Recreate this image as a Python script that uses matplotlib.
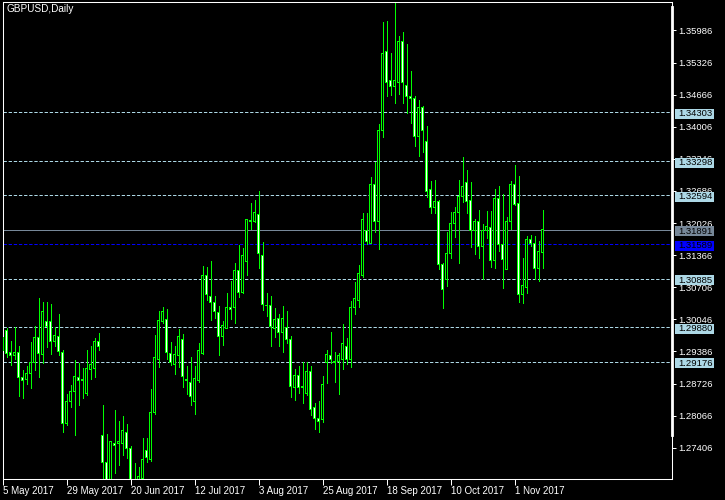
import matplotlib
matplotlib.use('Agg')
import matplotlib.pyplot as plt
from matplotlib.patches import Rectangle
from matplotlib.lines import Line2D

plt.rcParams['font.family'] = ['Liberation Sans', 'DejaVu Sans']
plt.rcParams['lines.scale_dashes'] = False

# ---------------- data (GBPUSD daily, 5 May 2017 .. 10 Nov 2017) ----------------
opens = [
    1.29416, 1.29827, 1.29375, 1.29313, 1.29375, 1.28861, 1.28820, 1.28923, 1.29149, 1.29683,
    1.29334, 1.29992, 1.29992, 1.29581, 1.29704, 1.29375, 1.27915, 1.28367, 1.28553, 1.28861,
    1.28779, 1.28532, 1.29025, 1.29046, 1.29601, 1.27668, 1.27093, 1.26579, 1.27504, 1.27504,
    1.27504, 1.27710, 1.27381, 1.26558, 1.26497, 1.26784, 1.27360, 1.27175, 1.28121, 1.29231,
    1.30012, 1.30053, 1.29354, 1.29128, 1.29293, 1.29642, 1.28779, 1.28738, 1.28367, 1.28799,
    1.29354, 1.30958, 1.30526, 1.30403, 1.30197, 1.29704, 1.29868, 1.30300, 1.30280, 1.31061,
    1.30608, 1.31246, 1.32089, 1.32048, 1.32212, 1.31369, 1.30341, 1.30341, 1.29868, 1.30074,
    1.29766, 1.29889, 1.29642, 1.28655, 1.28902, 1.28676, 1.28532, 1.28984, 1.28224, 1.28018,
    1.27997, 1.29169, 1.29293, 1.29190, 1.29190, 1.29231, 1.29498, 1.29231, 1.30280, 1.30444,
    1.30958, 1.31863, 1.31616, 1.32829, 1.32048, 1.33939, 1.35563, 1.34947, 1.34844, 1.34926,
    1.35749, 1.34864, 1.34618, 1.34577, 1.33816, 1.34392, 1.33693, 1.32706, 1.32356, 1.32479,
    1.31184, 1.30876, 1.31410, 1.32027, 1.32233, 1.32582, 1.32870, 1.32500, 1.31883, 1.32048,
    1.31554, 1.31863, 1.31945, 1.31266, 1.32541, 1.31595, 1.31081, 1.32068, 1.32829, 1.32438,
    1.30567, 1.30691, 1.31698, 1.31616, 1.31102, 1.31431,
]
highs = [
    1.29766, 1.29868, 1.29601, 1.29889, 1.29498, 1.29005, 1.29087, 1.29581, 1.29909, 1.30485,
    1.30403, 1.30403, 1.30362, 1.29889, 1.30156, 1.29416, 1.28511, 1.28696, 1.29210, 1.29149,
    1.29046, 1.29416, 1.29498, 1.29663, 1.29766, 1.28285, 1.27689, 1.27545, 1.28182, 1.27956,
    1.28059, 1.27895, 1.27442, 1.27093, 1.27011, 1.27607, 1.27607, 1.28614, 1.29724, 1.30218,
    1.30300, 1.30259, 1.29581, 1.29498, 1.29848, 1.29745, 1.29087, 1.29272, 1.29087, 1.29560,
    1.31143, 1.31123, 1.31246, 1.30526, 1.30321, 1.30012, 1.30588, 1.30835, 1.31205, 1.31575,
    1.31513, 1.32109, 1.32438, 1.32500, 1.32685, 1.31637, 1.30588, 1.30526, 1.30280, 1.30156,
    1.30321, 1.30218, 1.29704, 1.29025, 1.29087, 1.29169, 1.29169, 1.29087, 1.28326, 1.28367,
    1.28881, 1.29416, 1.29786, 1.29375, 1.29354, 1.29951, 1.29663, 1.30423, 1.30814, 1.31164,
    1.32233, 1.32233, 1.32973, 1.33281, 1.34063, 1.36160, 1.36180, 1.35522, 1.36550, 1.35872,
    1.35954, 1.35707, 1.35152, 1.34638, 1.34556, 1.34433, 1.34021, 1.32891, 1.32911, 1.32500,
    1.31205, 1.31842, 1.32253, 1.32356, 1.32911, 1.33384, 1.33117, 1.32870, 1.32109, 1.32294,
    1.32007, 1.32274, 1.32274, 1.32726, 1.32788, 1.32623, 1.32151, 1.32891, 1.33220, 1.32993,
    1.31308, 1.31760, 1.31780, 1.31760, 1.31657, 1.32294,
]
lows = [
    1.29313, 1.29272, 1.29108, 1.29231, 1.28470, 1.28429, 1.28717, 1.28635, 1.29005, 1.28861,
    1.29149, 1.29478, 1.29334, 1.29498, 1.29313, 1.27730, 1.27874, 1.28244, 1.27668, 1.28285,
    1.28429, 1.28491, 1.28820, 1.28861, 1.29416, 1.26640, 1.26435, 1.26497, 1.26887, 1.27052,
    1.27257, 1.27196, 1.26373, 1.26229, 1.26435, 1.26702, 1.27113, 1.27134, 1.28100, 1.29067,
    1.29971, 1.29231, 1.29108, 1.28923, 1.29067, 1.28655, 1.28511, 1.28285, 1.28100, 1.28758,
    1.29334, 1.30444, 1.30033, 1.30074, 1.29313, 1.29519, 1.29868, 1.30053, 1.29971, 1.30506,
    1.30588, 1.30958, 1.31904, 1.32048, 1.31102, 1.30238, 1.30115, 1.29498, 1.29683, 1.29498,
    1.29375, 1.29560, 1.28450, 1.28388, 1.28532, 1.28326, 1.28491, 1.28080, 1.27792, 1.27730,
    1.27936, 1.28738, 1.29149, 1.28758, 1.28511, 1.29025, 1.29128, 1.29067, 1.30156, 1.30300,
    1.30917, 1.31595, 1.31616, 1.31842, 1.31493, 1.33795, 1.34638, 1.34659, 1.34494, 1.34679,
    1.34494, 1.34289, 1.34083, 1.33610, 1.33405, 1.33487, 1.32562, 1.32233, 1.32233, 1.31081,
    1.30280, 1.30732, 1.31308, 1.31739, 1.31205, 1.32459, 1.32233, 1.31534, 1.31390, 1.31308,
    1.30876, 1.31719, 1.31123, 1.31102, 1.31451, 1.30691, 1.31081, 1.31904, 1.32397, 1.30403,
    1.30382, 1.30588, 1.31554, 1.30876, 1.30835, 1.31102,
]
closes = [
    1.29663, 1.29354, 1.29313, 1.29375, 1.28861, 1.28779, 1.28923, 1.29149, 1.29683, 1.29354,
    1.30218, 1.29909, 1.29601, 1.29724, 1.29395, 1.27895, 1.28367, 1.28553, 1.28881, 1.28779,
    1.28820, 1.29046, 1.29128, 1.29601, 1.29478, 1.27113, 1.26579, 1.27525, 1.27463, 1.27545,
    1.27771, 1.27381, 1.26538, 1.26476, 1.26825, 1.27175, 1.27196, 1.28121, 1.29252, 1.30033,
    1.30218, 1.29375, 1.29169, 1.29334, 1.29704, 1.28881, 1.28820, 1.28450, 1.28840, 1.29416,
    1.30958, 1.30567, 1.30403, 1.30218, 1.29704, 1.29930, 1.30300, 1.30259, 1.31061, 1.30608,
    1.31349, 1.32109, 1.32048, 1.32233, 1.31410, 1.30362, 1.30321, 1.29909, 1.30053, 1.29766,
    1.30074, 1.29642, 1.28676, 1.28902, 1.28655, 1.28635, 1.28984, 1.28203, 1.28018, 1.27956,
    1.28717, 1.29334, 1.29231, 1.29169, 1.29293, 1.29560, 1.29231, 1.30300, 1.30465, 1.30979,
    1.32109, 1.31637, 1.32829, 1.32048, 1.33939, 1.35522, 1.34926, 1.34844, 1.34947, 1.35749,
    1.34926, 1.34618, 1.34577, 1.33816, 1.34392, 1.33939, 1.32685, 1.32356, 1.32479, 1.31184,
    1.30650, 1.31410, 1.32027, 1.32233, 1.32582, 1.32788, 1.32479, 1.31883, 1.32048, 1.31554,
    1.31863, 1.31965, 1.31266, 1.32541, 1.31595, 1.31287, 1.32068, 1.32829, 1.32418, 1.30567,
    1.30752, 1.31698, 1.31616, 1.31102, 1.31451, 1.31891,
]

date_labels = ['5 May 2017', '29 May 2017', '20 Jun 2017', '12 Jul 2017', '3 Aug 2017',
               '25 Aug 2017', '18 Sep 2017', '10 Oct 2017', '1 Nov 2017']
date_label_bars = [0, 16, 32, 48, 64, 80, 96, 112, 128]

price_ticks = [1.27406, 1.28066, 1.28726, 1.29386, 1.30046, 1.30706, 1.31366,
               1.32026, 1.32686, 1.33346, 1.34006, 1.34666, 1.35326, 1.35986]

level_lines = [1.34303, 1.33298, 1.32594, 1.30885, 1.29880, 1.29176]
bid_level = 1.31891
blue_level = 1.31589

symbol_title = 'GBPUSD,Daily'

# ---------------- layout ----------------
W, H = 725, 500
AX_L, AX_R, AX_T, AX_B = 2.7, 672.3, 2.3, 479.0
Y_TOP, Y_BOT = 1.36565, 1.26764

GREEN = '#00ff00'
LBLUE = '#add8e6'
GRAY = '#778899'
BLUE = '#0000ff'

fig = plt.figure(figsize=(W / 100, H / 100), dpi=100, facecolor='black')
ax = fig.add_axes([AX_L / W, 1 - AX_B / H, (AX_R - AX_L) / W, (AX_B - AX_T) / H])
ax.set_facecolor('black')
ax.set_xlim((AX_L - 2.5) / 4, (AX_R - 2.5) / 4)
ax.set_ylim(Y_BOT, Y_TOP)

for s in ax.spines.values():
    s.set_color('white')
    s.set_linewidth(0.75)

px = 0.72  # one pixel in points
axw = AX_R - AX_L
axh = AX_B - AX_T
ypp = (Y_TOP - Y_BOT) / axh     # price per pixel
xpp = 0.25                       # bars per pixel
n = len(opens)
xs = list(range(n))

# reference lines
for lv in level_lines:
    ax.axhline(lv, color=LBLUE, lw=px, ls=(0, (2.4, 1.3)), zorder=1)
ax.axhline(bid_level, color=GRAY, lw=px, zorder=1)
ax.axhline(blue_level, color=BLUE, lw=px, ls=(0, (2.4, 1.3)), zorder=1)

# wicks
ax.vlines(xs, lows, highs, colors=GREEN, lw=px, zorder=2, antialiased=False)

# bodies: green 3px outer box, 1px inner fill (white = down, black = up)
bottoms = [min(o, c) for o, c in zip(opens, closes)]
tops = [max(o, c) for o, c in zip(opens, closes)]
outer_h = [max(t - b, 0) + ypp for b, t in zip(bottoms, tops)]
ax.bar(xs, outer_h, bottom=[b - ypp / 2 for b in bottoms], width=3 * xpp,
       color=GREEN, linewidth=0, zorder=3, antialiased=False)
in_x, in_b, in_h, in_c = [], [], [], []
for i, (o, c, b, t) in enumerate(zip(opens, closes, bottoms, tops)):
    h = (t - b) - ypp
    if h > 0:
        in_x.append(i)
        in_b.append(b + ypp / 2)
        in_h.append(h)
        in_c.append('white' if c < o else 'black')
ax.bar(in_x, in_h, bottom=in_b, width=xpp, color=in_c, linewidth=0, zorder=4,
       antialiased=False)

# y axis on right
ax.yaxis.tick_right()
ax.set_yticks(price_ticks)
ax.set_yticklabels([f'{p:.5f}' for p in price_ticks])
ax.tick_params(axis='y', colors='white', labelcolor='white', length=3, width=px,
               labelsize=6.8, pad=1.5)

# x axis dates
ax.set_xticks(date_label_bars)
ax.set_xticklabels(date_labels)
for lab in ax.get_xticklabels():
    lab.set_ha('left')
ax.tick_params(axis='x', colors='white', labelcolor='white', length=4, width=px,
               labelsize=7, pad=1)

# price tag boxes
trans = ax.get_yaxis_transform()
box_x0 = (675 - AX_L) / axw
box_w = 39 / axw
box_h = 10 * ypp
tags = [(lv, LBLUE, 'black') for lv in level_lines] + [(bid_level, GRAY, 'black'),
                                                      (blue_level, BLUE, 'black')]
for lv, fc, tc in tags:
    yc = lv - 1.5 * ypp
    ax.add_patch(Rectangle((box_x0, yc - box_h / 2), box_w, box_h, transform=trans,
                           facecolor=fc, edgecolor='none', clip_on=False, zorder=6))
    ax.text(box_x0 + 3 / axw, yc, f'{lv:.5f}', transform=trans, ha='left', va='center',
            fontsize=6.8, color=tc, clip_on=False, zorder=7)

# thick bar on right edge
fig.add_artist(Line2D([AX_R / W, AX_R / W], [1 - 7 / H, 1 - 435 / H],
                      transform=fig.transFigure, color='white', lw=2.0))

fig.text(6.5 / W, 1 - 9.5 / H, symbol_title, color='white', fontsize=7.2,
         ha='left', va='center')

fig.savefig('out.png', dpi=100, facecolor='black')
